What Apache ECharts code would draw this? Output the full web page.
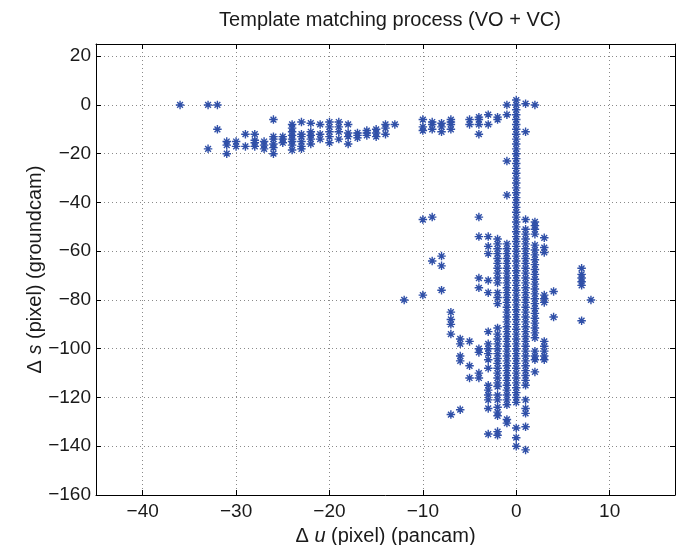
<!DOCTYPE html>
<html>
<head>
<meta charset="utf-8">
<script src="https://cdn.jsdelivr.net/npm/echarts@6/dist/echarts.min.js"></script>
<style>html,body{margin:0;padding:0;background:#fff}#c{width:684px;height:545px}</style>
</head>
<body>
<div id="c"></div>
<script>
// Δu columns (pixel, pancam)
const uColumns = [-36,-33,-32,-31,-30,-29,-28,-27,-26,-25,-24,-23,-22,-21,-20,-19,-18,-17,-16,-15,-14,-13,-12,-10,-9,-8,-7,-6,-5,-4,-3,-2,-1,0,1,2,3,4,7,8];
// Δs values for each column (pixel, groundcam)
const sColumns = [
  [0],
  [0,-18],
  [0,-10],
  [-15,-16.5,-20],
  [-15,-17],
  [-12,-17],
  [-12,-14.5,-15.5,-17],
  [-15,-16.5,-18],
  [-6,-13,-14,-16,-17.5,-20],
  [-13,-14,-15.5],
  [-8,-9.5,-11,-12.5,-14,-15,-16.5,-18.5],
  [-7,-12,-13,-15,-17,-18],
  [-7.5,-11,-12.5,-14,-16],
  [-8,-12,-14],
  [-7,-9,-11,-13,-15.5],
  [-7,-9,-11,-14],
  [-8,-11.5,-13,-16],
  [-11.5,-12.5,-13.5],
  [-10.5,-11.5,-12.5],
  [-10,-11.5,-13],
  [-8,-9.5,-12],
  [-8],
  [-80],
  [-6,-9,-10.5,-47,-78],
  [-7,-8,-10,-46,-64],
  [-7.5,-9,-11,-62,-66,-76],
  [-6,-7,-8,-10,-85,-88,-90,-94,-127],
  [-96,-98,-103,-105,-125],
  [-6,-8,-97,-107,-112],
  [-5,-6,-8,-12,-46,-54,-71,-75,-100,-101.5,-110,-112],
  [-4,-8,-54,-58,-61,-72,-77,-93,-98,-100,-102,-104.5,-108,-115,-117,-119,-121,-124.5,-135],
  [-5,-6,-55,-57,-59,-61,-63,-65,-67,-69,-71,-73,-77,-79,-81.5,-91.5,-94,-96,-98,-100,-102,-104,-106,-108,-110,-112,-114,-115.5,-119,-121,-124,-126,-127.5,-134,-135.5],
  [0,-4,-23,-37,-57,-59,-61,-63,-65,-67,-69,-71,-73,-75,-77,-79,-81,-83,-85,-87,-89,-91,-93,-95,-97,-99,-101,-103,-105,-107,-109,-111,-113,-115,-117,-119,-121,-123,-129,-130.5],
  [2,0,-2,-4,-6,-8,-10,-12,-14,-16,-18,-20,-22,-24,-26,-28,-30,-32,-34,-36,-38,-40,-42,-44,-46,-48,-50,-52,-54,-56,-58,-60,-62,-64,-66,-68,-70,-72,-74,-76,-78,-80,-82,-84,-86,-88,-90,-92,-94,-96,-98,-100,-102,-104,-106,-108,-110,-112,-114,-116,-118,-120,-122,-132.5,-136.5,-140],
  [0.5,-11,-47,-51,-53,-55,-57,-59,-61,-63,-65,-67,-69,-71,-73,-75,-77,-79,-81,-83,-85,-87,-89,-91,-93,-95,-97,-99,-101,-103,-105,-107,-109,-111,-113,-115,-121,-124.5,-126.5,-132,-141.5],
  [0,-48,-49.5,-51,-53,-57.5,-59.5,-61.5,-63.5,-65.5,-67.5,-69.5,-71.5,-73.5,-75.5,-77.5,-79.5,-81.5,-83.5,-85.5,-87.5,-89.5,-91.5,-93.5,-95.5,-101,-103,-104.5,-109.5],
  [-54.5,-58.5,-60.5,-78,-79.5,-81,-97,-99,-101,-103,-104.5],
  [-76.5,-87],
  [-67,-69.5,-71,-72.5,-74,-88.5],
  [-80]
];
const titleText = 'Template matching process (VO + VC)';

const points = [];
uColumns.forEach((u, i) => sColumns[i].forEach(s => points.push([u, s])));

const FONT = '"Liberation Sans", Arial, Helvetica, sans-serif';
const TXT = '#1a1a1a';
const minusFmt = v => String(v).replace('-', '\u2212');
const asterisk = 'path://M5,0L5,10M0,5L10,5M1.6,1.6L8.4,8.4M8.4,1.6L1.6,8.4';
const rich = {
  a: {fontFamily: FONT, fontSize: 20, color: TXT},
  i: {fontFamily: FONT, fontSize: 20, color: TXT, fontStyle: 'italic'}
};
const lineBox = {show: true, onZero: false, lineStyle: {color: '#000', width: 1}};
const tickIn = {show: true, inside: true, length: 5, lineStyle: {color: '#000'}};

const chart = echarts.init(document.getElementById('c'), null, {renderer: 'canvas'});
chart.setOption({
  animation: false,
  backgroundColor: '#fff',
  title: {
    text: titleText, left: 385, top: 5, textAlign: 'center',
    textStyle: {fontFamily: FONT, fontSize: 20, fontWeight: 'normal', color: TXT}
  },
  grid: {left: 96, right: 9, top: 44, bottom: 50, show: false, containLabel: false, outerBoundsMode: 'none'},
  xAxis: [{
    type: 'value', min: -45, max: 17, splitNumber: 6, minInterval: 10, maxInterval: 10,
    position: 'bottom',
    axisLine: lineBox, axisTick: tickIn,
    axisLabel: {show: true, showMinLabel: false, showMaxLabel: false, formatter: minusFmt,
      fontFamily: FONT, fontSize: 19, color: TXT, margin: 7},
    splitLine: {show: true, lineStyle: {color: '#8a8a8a', type: [1, 3], width: 1}},
    name: '{a|\u0394 }{i|u}{a| (pixel) (pancam)}', nameLocation: 'middle', nameGap: 31,
    nameMoveOverlap: false,
    nameTextStyle: {fontFamily: FONT, fontSize: 20, color: TXT, rich: rich}
  }, {
    type: 'value', min: -45, max: 17, splitNumber: 6, minInterval: 10, maxInterval: 10,
    position: 'top',
    axisLine: lineBox, axisTick: tickIn,
    axisLabel: {show: false}, splitLine: {show: false}
  }],
  yAxis: [{
    type: 'value', min: -160, max: 25, splitNumber: 9, minInterval: 20, maxInterval: 20,
    position: 'left',
    axisLine: lineBox, axisTick: tickIn,
    axisLabel: {show: true, showMaxLabel: false, formatter: minusFmt,
      fontFamily: FONT, fontSize: 19, color: TXT, margin: 5},
    splitLine: {show: true, lineStyle: {color: '#8a8a8a', type: [1, 3], width: 1}},
    name: '{a|\u0394 }{i|s}{a| (pixel) (groundcam)}', nameLocation: 'middle', nameGap: 51,
    nameMoveOverlap: false,
    nameTextStyle: {fontFamily: FONT, fontSize: 20, color: TXT, rich: rich}
  }, {
    type: 'value', min: -160, max: 25, splitNumber: 9, minInterval: 20, maxInterval: 20,
    position: 'right',
    axisLine: lineBox, axisTick: tickIn,
    axisLabel: {show: false}, splitLine: {show: false}
  }],
  series: [{
    type: 'scatter', xAxisIndex: 0, yAxisIndex: 0,
    data: points,
    symbol: asterisk, symbolSize: 8.5,
    itemStyle: {color: 'rgba(0,0,0,0)', borderColor: '#3050a8', borderWidth: 1.4, opacity: 1},
    emphasis: {disabled: true}
  }]
});
</script>
</body>
</html>
